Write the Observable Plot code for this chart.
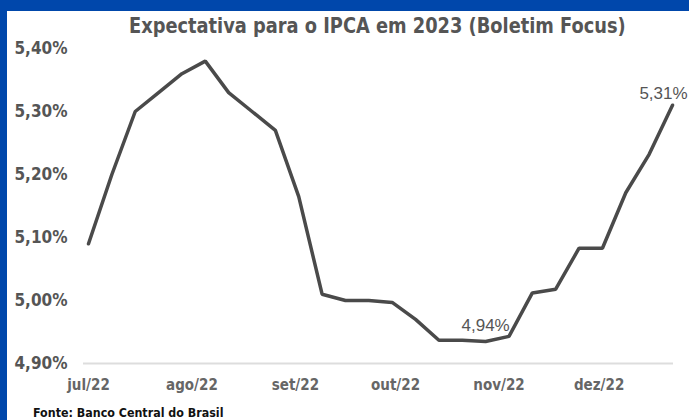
<!DOCTYPE html>
<html>
<head>
<meta charset="utf-8">
<script src="https://cdn.jsdelivr.net/npm/d3@7"></script>
<script src="https://cdn.jsdelivr.net/npm/@observablehq/plot@0.6"></script>
<style>
  html, body { margin: 0; padding: 0; }
  body { width: 689px; height: 420px; background: #0047ab; position: relative; overflow: hidden; }
  #panel { position: absolute; left: 7px; top: 11px; width: 682px; height: 409px; background: #fff; }
  #chart { position: absolute; left: 0; top: 0; }
  #title { position: absolute; left: 129px; top: 13px; font-family: "DejaVu Sans Condensed", sans-serif; font-weight: bold; font-size: 22px; color: #555; white-space: nowrap; line-height: 26px; transform: scaleX(0.9); transform-origin: 0 0; }
  #source { position: absolute; left: 33px; top: 405px; font-family: "DejaVu Sans Condensed", sans-serif; font-weight: bold; font-size: 13px; color: #111; white-space: nowrap; line-height: 15px; transform: scaleX(0.95); transform-origin: 0 0; }
</style>
</head>
<body>
<div id="panel"></div>
<div id="chart"></div>
<div id="title">Expectativa para o IPCA em 2023 (Boletim Focus)</div>
<div id="source">Fonte: Banco Central do Brasil</div>
<script>
const dates = ["2022-07-01","2022-07-08","2022-07-15","2022-07-22","2022-07-29",
  "2022-08-05","2022-08-12","2022-08-19","2022-08-26",
  "2022-09-02","2022-09-09","2022-09-16","2022-09-23","2022-09-30",
  "2022-10-07","2022-10-14","2022-10-21","2022-10-28",
  "2022-11-04","2022-11-11","2022-11-18","2022-11-25",
  "2022-12-02","2022-12-09","2022-12-16","2022-12-23"];
const values = [5.09, 5.20, 5.30, 5.33, 5.36,
  5.38, 5.33, 5.30, 5.27,
  5.165, 5.01, 5.00, 5.00, 4.997,
  4.97, 4.937, 4.937, 4.935,
  4.943, 5.012, 5.018, 5.083,
  5.083, 5.171, 5.232, 5.31];
const monthTicks = ["2022-07-01","2022-08-01","2022-09-01","2022-10-01","2022-11-01","2022-12-01"];
const monthNames = ["jan","fev","mar","abr","mai","jun","jul","ago","set","out","nov","dez"];
const yTicks = [4.9, 5.0, 5.1, 5.2, 5.3, 5.4];
const minIndex = 17;
const lastIndex = 25;
const minLabel = "4,94%";
const lastLabel = "5,31%";

const data = dates.map((d, i) => ({date: new Date(d + "T00:00:00Z"), value: values[i]}));

const narrow = '"DejaVu Sans Condensed", sans-serif';
const chart = Plot.plot({
  width: 689,
  height: 420,
  marginLeft: 88,
  marginRight: 17,
  marginTop: 48,
  marginBottom: 57,
  style: {background: "transparent", color: "#555", fontFamily: narrow},
  x: {type: "utc", domain: [data[0].date, data[data.length - 1].date]},
  y: {domain: [4.9, 5.4]},
  marks: [
    Plot.ruleY([4.9], {stroke: "#ddd", strokeWidth: 2, insetLeft: -5, insetRight: -1}),
    Plot.axisY({ticks: yTicks, tickSize: 0, tickPadding: 21, label: null,
      tickFormat: d => d.toFixed(2).replace(".", ",") + "%",
      fontSize: 17, fontWeight: "bold", fontFamily: narrow, fill: "#555"}),
    Plot.axisX({ticks: monthTicks.map(d => new Date(d + "T00:00:00Z")), tickSize: 0, tickPadding: 16, label: null,
      tickFormat: d => monthNames[d.getUTCMonth()] + "/" + String(d.getUTCFullYear()).slice(2),
      fontSize: 15, fontWeight: "bold", fontFamily: narrow, fill: "#666"}),
    Plot.lineY(data, {x: "date", y: "value", stroke: "#4a4a4a", strokeWidth: 3.5, strokeLinejoin: "miter"}),
    Plot.text([data[minIndex]], {x: "date", y: "value", text: () => minLabel, dy: -16,
      fontSize: 17, fontFamily: "Liberation Sans, Arial, sans-serif", fill: "#555"}),
    Plot.text([data[lastIndex]], {x: "date", y: "value", text: () => lastLabel, dy: -12, dx: -9,
      fontSize: 17, fontFamily: "Liberation Sans, Arial, sans-serif", fill: "#555"})
  ]
});
document.getElementById("chart").appendChild(chart);
</script>
</body>
</html>
